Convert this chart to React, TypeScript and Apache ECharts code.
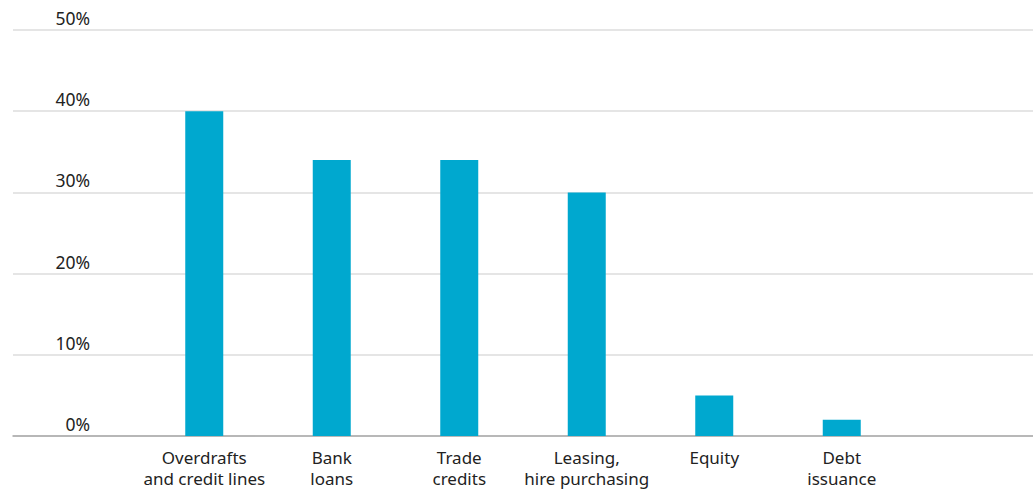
import React, { useEffect, useRef } from "react";
import * as echarts from "echarts";

const categories = [
  "",
  "Overdrafts\nand credit lines",
  "Bank\nloans",
  "Trade\ncredits",
  "Leasing,\nhire purchasing",
  "Equity",
  "Debt\nissuance",
  "",
];
const values: (number | string)[] = ["-", 40, 34, 34, 30, 5, 2, "-"];
const yTicks = [0, 10, 20, 30, 40, 50];

const FONT = "'Noto Sans', sans-serif";

export default function App() {
  const ref = useRef<HTMLDivElement>(null);
  useEffect(() => {
    if (!ref.current) return;
    const chart = echarts.init(ref.current, undefined, { renderer: "svg" });
    chart.setOption({
      animation: false,
      grid: { left: 13, right: 0, top: 30, bottom: 55, containLabel: false },
      xAxis: {
        type: "category",
        data: categories,
        axisLine: { show: true, lineStyle: { color: "#a8a8a8", width: 1.5 } },
        axisTick: { show: false },
        axisLabel: {
          interval: 0,
          margin: 11,
          color: "#222",
          fontSize: 17,
          lineHeight: 21,
          fontFamily: FONT,
        },
      },
      yAxis: {
        type: "value",
        min: yTicks[0],
        max: yTicks[yTicks.length - 1],
        interval: 10,
        axisLine: { show: false },
        axisTick: { show: false },
        splitLine: { lineStyle: { color: "#dddddd", width: 1.5 } },
        axisLabel: {
          inside: true,
          align: "right",
          margin: 77,
          verticalAlign: "bottom",
          padding: [0, 0, 3, 0],
          color: "#222",
          fontSize: 17.5,
          fontFamily: FONT,
          formatter: "{value}%",
        },
      },
      series: [
        {
          type: "bar",
          data: values,
          barWidth: 38,
          itemStyle: { color: "#00a8cf" },
        },
      ],
    });
    return () => chart.dispose();
  }, []);
  return (
    <div
      ref={ref}
      style={{ position: "fixed", left: 0, top: 0, width: 1033, height: 491, background: "#fff" }}
    />
  );
}
